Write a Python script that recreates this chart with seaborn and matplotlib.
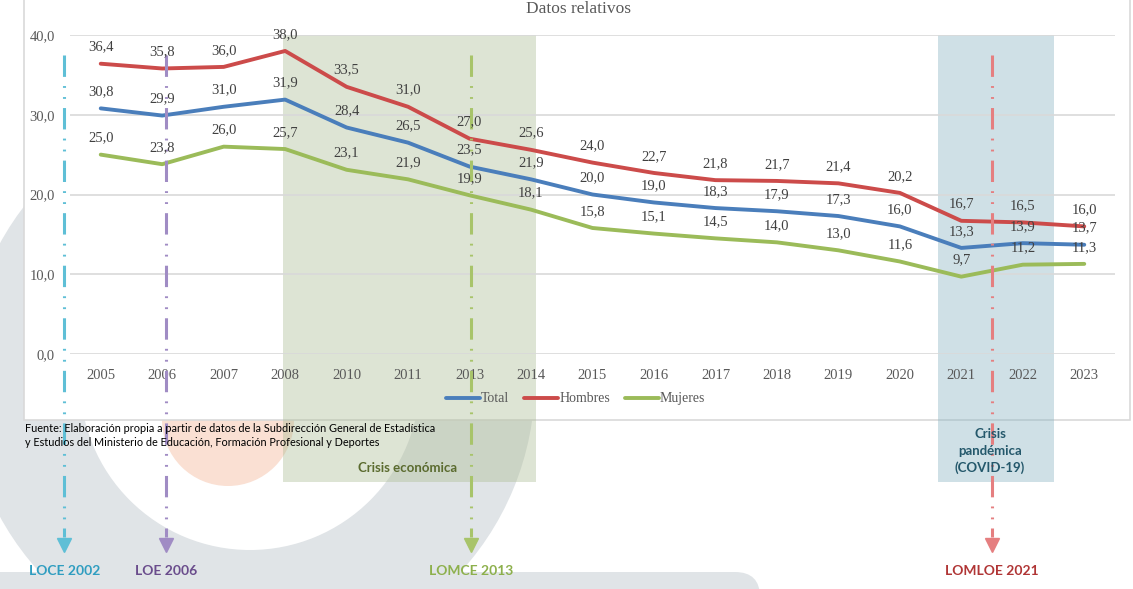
import numpy as np
import pandas as pd
import matplotlib
matplotlib.use("Agg")
import matplotlib.pyplot as plt
import matplotlib.transforms as mtransforms
from matplotlib.patches import Rectangle, Wedge, Circle, FancyBboxPatch
import seaborn as sns

# datos
anios = ['2005', '2006', '2007', '2008', '2010', '2011', '2013', '2014', '2015',
         '2016', '2017', '2018', '2019', '2020', '2021', '2022', '2023']
total = [30.8, 29.9, 31.0, 31.9, 28.4, 26.5, 23.5, 21.9, 20.0,
         19.0, 18.3, 17.9, 17.3, 16.0, 13.3, 13.9, 13.7]
hombres = [36.4, 35.8, 36.0, 38.0, 33.5, 31.0, 27.0, 25.6, 24.0,
           22.7, 21.8, 21.7, 21.4, 20.2, 16.7, 16.5, 16.0]
mujeres = [25.0, 23.8, 26.0, 25.7, 23.1, 21.9, 19.9, 18.1, 15.8,
           15.1, 14.5, 14.0, 13.0, 11.6, 9.7, 11.2, 11.3]
series = ['Total', 'Hombres', 'Mujeres']
colores = {'Total': '#4a7ebb', 'Hombres': '#cc4b4a', 'Mujeres': '#9bbb59'}

leyes = ['LOCE 2002', 'LOE 2006', 'LOMCE 2013', 'LOMLOE 2021']
leyes_pos = [-0.59, 1.06, 6.02, 14.5]
leyes_linea = ['#5fbfd6', '#a08cc4', '#a8c46a', '#e57f80']
leyes_texto = ['#2f9dc0', '#6a4c8c', '#8db04c', '#b03535']

df = pd.DataFrame({'Año': anios, 'Total': total, 'Hombres': hombres, 'Mujeres': mujeres})
largo = df.melt(id_vars='Año', var_name='Serie', value_name='Valor')

sns.set_style('white')
plt.rcParams['font.family'] = ['Liberation Serif', 'DejaVu Serif']

W, H = 1133, 589
fig = plt.figure(figsize=(W / 100, H / 100), dpi=100)

# fondo decorativo (coordenadas en pixeles)
bg = fig.add_axes([0, 0, 1, 1], zorder=0)
bg.set_xlim(0, W)
bg.set_ylim(H, 0)
bg.axis('off')
gris = '#e0e4e7'
bg.add_patch(Wedge((250, 380), 285, 0, 360, width=115, color=gris, lw=0))
bg.add_patch(FancyBboxPatch((-100, 572), 860, 60, boxstyle='round,pad=0,rounding_size=25',
                            color=gris, lw=0))
bg.add_patch(Circle((228, 420), 66, color='#fae0d3', lw=0))
bg.add_patch(Rectangle((24, -5), 1106, 425, fc='white', ec='#d9d9d9', lw=1.2))

fig.text(578 / W, 1 - 9 / H, 'Datos relativos', ha='center', va='center',
         fontsize=12.5, color='#595959')
fig.text(25 / W, 1 - 428 / H,
         'Fuente: Elaboración propia a partir de datos de la Subdirección General de Estadística',
         fontsize=7.8, family='Lato', va='center', color='black')
fig.text(25 / W, 1 - 442 / H,
         'y Estudios del Ministerio de Educación, Formación Profesional y Deportes',
         fontsize=7.8, family='Lato', va='center', color='black')

# grafico principal
ax = fig.add_axes([70 / W, 1 - 354 / H, 1045 / W, 319 / H], zorder=1)
ax.patch.set_alpha(0)
sns.lineplot(data=largo, x='Año', y='Valor', hue='Serie', hue_order=series,
             palette=colores, sort=False, linewidth=2.8, ax=ax)

for s in series:
    for i, v in enumerate(df[s]):
        ax.annotate(f'{v:.1f}'.replace('.', ','), (i, v), xytext=(0, 12),
                    textcoords='offset points', ha='center', va='center',
                    fontsize=10.5, color='#404040', zorder=5)

ax.set_xlim(-0.5, 16.5)
ax.set_ylim(0, 40)
ax.set_yticks([0, 10, 20, 30, 40])
ax.set_yticklabels([f'{t:.1f}'.replace('.', ',') for t in [0, 10, 20, 30, 40]])
ax.yaxis.grid(True, color='#d9d9d9', lw=1.2)
ax.set_axisbelow(True)
for sp in ax.spines.values():
    sp.set_visible(False)
ax.tick_params(axis='both', length=0, labelsize=10.5, colors='#595959')
ax.tick_params(axis='x', pad=11)
ax.tick_params(axis='y', pad=11)
ax.set_xlabel('')
ax.set_ylabel('')

ax.legend(title=None, loc='center', bbox_to_anchor=(0.484, -0.141), ncol=3,
          frameon=False, fontsize=10, handlelength=2.4, handletextpad=0.1,
          columnspacing=1.1, labelcolor='#595959')

# franjas de crisis y leyes
blend = mtransforms.blended_transform_factory(ax.transData, fig.transFigure)
crisis = [('Crisis económica', 2.97, 7.08, '#acbc94', '#5b6b2f', 408, 468),
          ('Crisis\npandémica\n(COVID-19)', 13.62, 15.5, '#87b2c1', '#24586b', 990, 451)]
for texto, x0, x1, fc, tc, tx, ty in crisis:
    ax.add_patch(Rectangle((x0, 1 - 482 / H), x1 - x0, (482 - 35) / H, transform=blend,
                           fc=fc, alpha=0.4, lw=0, zorder=0.4, clip_on=False))
    fig.text(tx / W, 1 - ty / H, texto, ha='center', va='center', fontsize=9.5,
             family='Lato', weight='bold', color=tc, linespacing=1.45, zorder=6)

for nombre, xp, cl, ct in zip(leyes, leyes_pos, leyes_linea, leyes_texto):
    ax.plot([xp, xp], [1 - 55 / H, 1 - 537 / H], transform=blend, color=cl, lw=2.2,
            dashes=(7, 3, 0.6, 3, 0.6, 3), clip_on=False, zorder=2)
    ax.plot([xp], [1 - 545 / H], transform=blend, marker='v', ms=10, color=cl,
            clip_on=False, zorder=2)
    ax.text(xp, 1 - 571 / H, nombre, transform=blend, ha='center', va='center',
            fontsize=10, family='Lato', weight='bold', color=ct, clip_on=False)

fig.savefig('out.png', dpi=100)
